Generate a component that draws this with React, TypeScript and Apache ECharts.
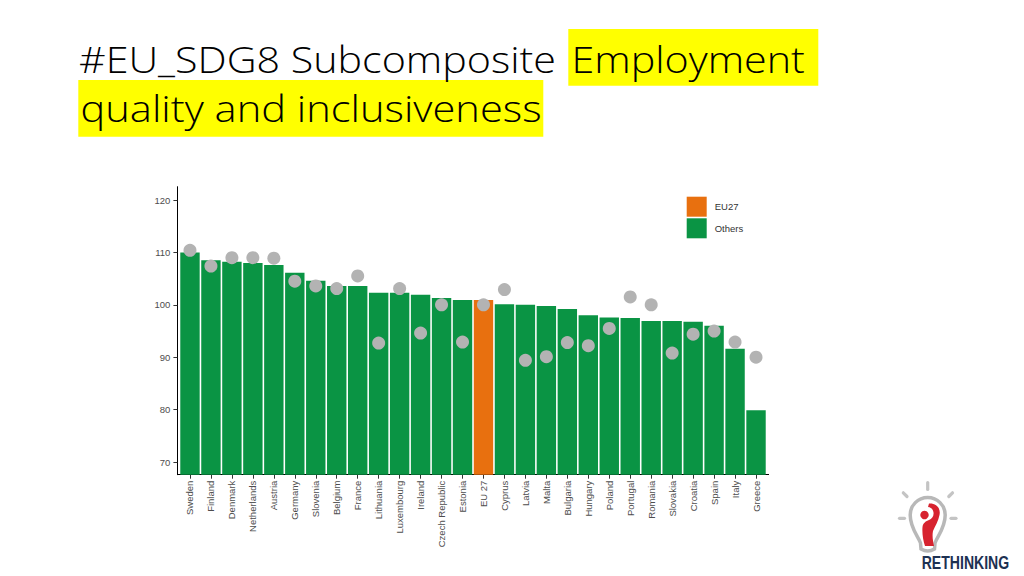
import React, { useEffect, useRef } from "react";
import * as echarts from "echarts";

const categories = [
  "Sweden", "Finland", "Denmark", "Netherlands", "Austria", "Germany", "Slovenia",
  "Belgium", "France", "Lithuania", "Luxembourg", "Ireland", "Czech Republic", "Estonia",
  "EU 27", "Cyprus", "Latvia", "Malta", "Bulgaria", "Hungary", "Poland", "Portugal",
  "Romania", "Slovakia", "Croatia", "Spain", "Italy", "Greece",
];
const barValues = [
  110.0, 108.5, 108.2, 108.0, 107.6, 106.1, 104.6, 103.6, 103.6, 102.3, 102.3, 101.9,
  101.3, 100.9, 100.9, 100.1, 100.0, 99.75, 99.2, 98.0, 97.6, 97.5, 96.9, 96.9, 96.75,
  96.0, 91.6, 79.9,
];
const dotValues = [
  110.4, 107.4, 109.0, 109.0, 108.9, 104.5, 103.6, 103.1, 105.5, 92.7, 103.1, 94.6,
  100.0, 92.9, 100.0, 102.9, 89.4, 90.1, 92.8, 92.2, 95.5, 101.5, 100.0, 90.8, 94.4,
  95.0, 92.9, 90.0,
];
const yTicks = [70, 80, 90, 100, 110, 120];
const euCategory = "EU 27";
const legendNames = ["EU27", "Others"];
const titleLine1a = "#EU_SDG8 Subcomposite";
const titleLine1b = "Employment";
const titleLine2 = "quality and inclusiveness";
const logoText = "RETHINKING";

const GREEN = "#0a9444";
const ORANGE = "#e8700f";
const DOT = "#b3b3b3";

const bulbPath =
  "M 921 549 L 920.5 543 C 918 536 910.2 528 910.2 515 A 17.5 17.5 0 1 1 945.2 515 C 945.2 528 937.5 536 935 543 L 934.5 549 Q 927.7 553 921 549 Z";
const figurePath =
  "M 929 503.5 C 936 503 941 508 939.5 515 C 938.5 521 935 526 933 531 C 932 536 933 541 934 546 L 925 546 C 923 540 922 533 922.5 527 C 923 523 926 521 929 520 C 932 519 934 516 933.5 512.5 C 933 509 931 507.5 928 507 Z";

let registered = false;
function registerShapes() {
  if (registered) return;
  registered = true;
  echarts.graphic.registerShape("bulb", echarts.graphic.extendPath(bulbPath, {}));
  echarts.graphic.registerShape("figure", echarts.graphic.extendPath(figurePath, {}));
}

const measureCtx = (() => {
  const c = document.createElement("canvas");
  return c.getContext("2d");
})();
function textWidth(text: string, font: string) {
  if (!measureCtx) return 100;
  measureCtx.font = font;
  return measureCtx.measureText(text).width;
}

const TITLE_FONT = "'Open Sans', 'Noto Sans', sans-serif";
const TITLE_SIZE = 36;
const TITLE_WEIGHT = 350;

function fitText(text: string, left: number, right: number, midY: number, size: number, family: string, weight: number | string, fill: string) {
  const w = textWidth(text, `${weight} ${size}px ${family}`);
  const sx = (right - left) / w;
  return {
    type: "text",
    x: left,
    y: midY,
    scaleX: sx,
    scaleY: 1,
    z: 10,
    style: {
      text,
      fontSize: size,
      fontFamily: family,
      fontWeight: weight,
      fill,
      align: "left",
      verticalAlign: "middle",
    },
  };
}

export default function App() {
  const ref = useRef<HTMLDivElement>(null);

  useEffect(() => {
    if (!ref.current) return;
    registerShapes();
    const chart = echarts.init(ref.current, undefined, { renderer: "svg" });

    const idx = categories.map((_, i) => i + 1);
    const euData: any[] = [];
    const otherData: any[] = [];
    categories.forEach((c, i) => {
      if (c === euCategory) euData.push([i + 1, barValues[i]]);
      else otherData.push([i + 1, barValues[i]]);
    });
    const dots = dotValues.map((v, i) => [i + 1, v]);

    const labelFont = "'Liberation Sans', Arial, sans-serif";
    const ray = (x1: number, y1: number, x2: number, y2: number) => ({
      type: "line",
      shape: { x1, y1, x2, y2 },
      style: { stroke: "#c4c4c4", lineWidth: 3.2, lineCap: "round" },
    });

    const graphics: any[] = [
      { type: "rect", shape: { x: 568.3, y: 29, width: 250, height: 56.7 }, style: { fill: "#ffff00" }, z: 1 },
      { type: "rect", shape: { x: 78.3, y: 80, width: 465, height: 56.7 }, style: { fill: "#ffff00" }, z: 1 },
      fitText(titleLine1a, 79, 556, 59.5, TITLE_SIZE, TITLE_FONT, TITLE_WEIGHT, "#000000"),
      fitText(titleLine1b, 571.5, 805, 59.5, TITLE_SIZE, TITLE_FONT, TITLE_WEIGHT, "#000000"),
      fitText(titleLine2, 80.5, 541.7, 107.7, TITLE_SIZE, TITLE_FONT, TITLE_WEIGHT, "#000000"),
      // logo rays
      ray(927.7, 482.5, 927.7, 489.5),
      ray(903.3, 492.8, 907, 496.5),
      ray(952.5, 492.8, 948.8, 496.5),
      ray(899.5, 518.3, 904.5, 518.3),
      ray(951, 518.3, 956, 518.3),
      { type: "bulb", x: 0, y: 0, style: { fill: "none", stroke: "#b8b8b8", lineWidth: 3.5 } },
      { type: "figure", x: 0, y: 0, style: { fill: "#d7232f" } },
      { type: "circle", shape: { cx: 924.5, cy: 515, r: 4.2 }, style: { fill: "#d7232f" } },
      fitText(logoText, 921.7, 1009.3, 562.5, 18, "'Liberation Sans Narrow', 'Liberation Sans', sans-serif", "bold", "#1d3152"),
    ];

    chart.setOption({
      animation: false,
      backgroundColor: "#ffffff",
      grid: { left: 177.4, right: 255.4, top: 186.7, bottom: 101.3, containLabel: false },
      legend: {
        data: legendNames,
        orient: "vertical",
        left: 681.7,
        top: 191.7,
        itemWidth: 20,
        itemHeight: 20,
        itemGap: 1.6,
        icon: "rect",
        textStyle: { fontSize: 9.5, color: "#333333", fontFamily: labelFont, padding: [0, 0, 0, 3] },
      },
      xAxis: {
        type: "value",
        min: 0.4,
        max: 28.6,
        splitLine: { show: false },
        axisLine: { show: true, lineStyle: { color: "#000000", width: 1 } },
        axisTick: { show: true, customValues: idx, length: 4, lineStyle: { color: "#333333" } },
        axisLabel: {
          show: true,
          customValues: idx,
          rotate: 90,
          margin: 6,
          fontSize: 9.5,
          color: "#4d4d4d",
          fontFamily: labelFont,
          formatter: (v: number) => categories[Math.round(v) - 1] ?? "",
        },
      },
      yAxis: {
        type: "value",
        min: 67.58,
        max: 122.54,
        splitLine: { show: false },
        axisLine: { show: true, lineStyle: { color: "#000000", width: 1 } },
        axisTick: { show: true, customValues: yTicks, length: 4, lineStyle: { color: "#333333" } },
        axisLabel: {
          show: true,
          customValues: yTicks,
          margin: 7,
          fontSize: 9.5,
          color: "#4d4d4d",
          fontFamily: labelFont,
        },
      },
      series: [
        {
          name: "EU27",
          type: "bar",
          data: euData,
          barWidth: 19.4,
          barGap: "-100%",
          itemStyle: { color: ORANGE },
          z: 2,
        },
        {
          name: "Others",
          type: "bar",
          data: otherData,
          barWidth: 19.4,
          barGap: "-100%",
          itemStyle: { color: GREEN },
          z: 2,
        },
        {
          name: "dots",
          type: "scatter",
          data: dots,
          symbol: "circle",
          symbolSize: 13,
          itemStyle: { color: DOT, opacity: 1 },
          z: 5,
        },
      ],
      graphic: graphics,
    });

    return () => chart.dispose();
  }, []);

  return (
    <div
      ref={ref}
      style={{ position: "fixed", left: 0, top: 0, width: 1024, height: 576, background: "#ffffff" }}
    />
  );
}
